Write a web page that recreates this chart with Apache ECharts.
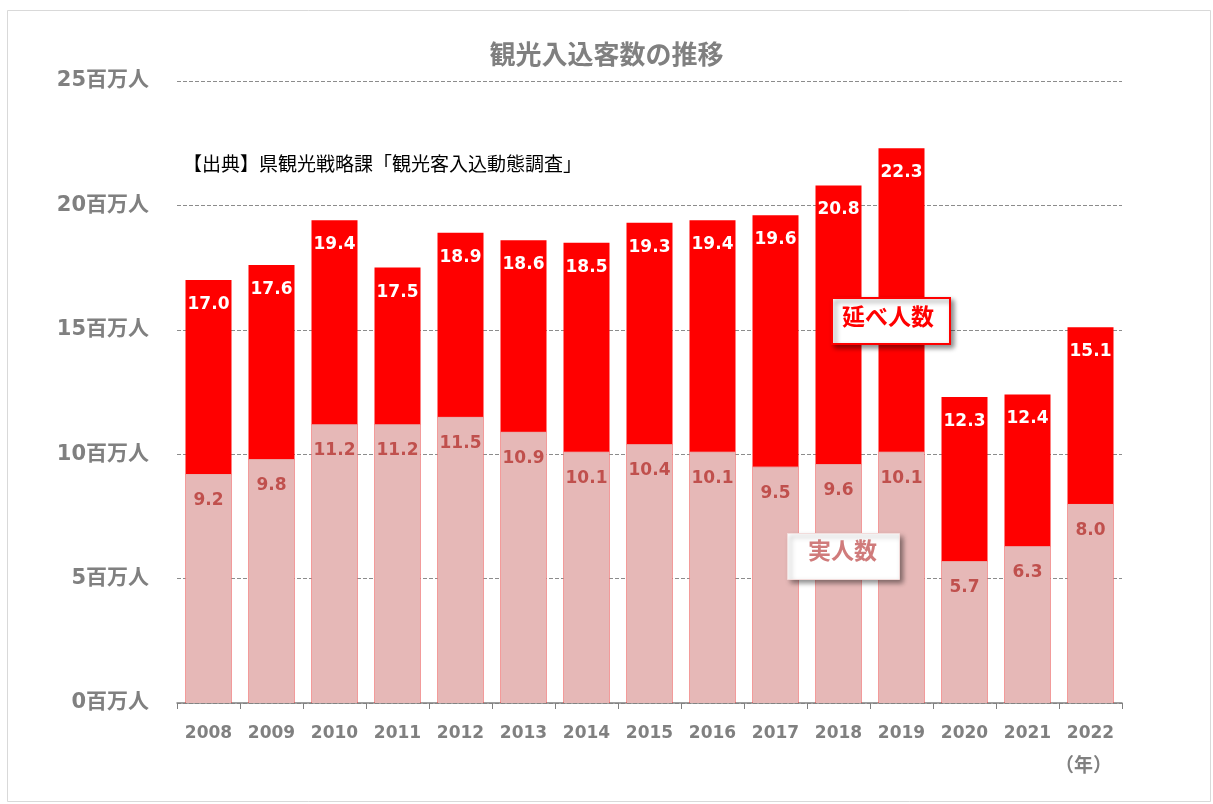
<!DOCTYPE html>
<html><head><meta charset="utf-8">
<script src="https://cdn.jsdelivr.net/npm/echarts@6/dist/echarts.min.js"></script>
<style>html,body{margin:0;padding:0;background:#fff}#c{width:1213px;height:804px}</style>
</head><body><div id="c"></div>
<script>
const categories = ['2008','2009','2010','2011','2012','2013','2014','2015','2016','2017','2018','2019','2020','2021','2022'];
const totalVisitors = [17.0,17.6,19.4,17.5,18.9,18.6,18.5,19.3,19.4,19.6,20.8,22.3,12.3,12.4,15.1];
const realVisitors = [9.2,9.8,11.2,11.2,11.5,10.9,10.1,10.4,10.1,9.5,9.6,10.1,5.7,6.3,8.0];
const yTicks = [0,5,10,15,20,25];
const FONT = "'DejaVu Sans','Noto Sans CJK JP',sans-serif";
const JP = "'Noto Sans CJK JP',sans-serif";

const chart = echarts.init(document.getElementById('c'), null, {renderer:'canvas'});
chart.setOption({
  animation:false,
  backgroundColor:'#fff',
  title:{text:'観光入込客数の推移', left:'center', top:36, textStyle:{fontFamily:JP, fontSize:26, fontWeight:'bold', color:'#808080'}},
  grid:{left:177, right:91, top:81, bottom:101},
  xAxis:{type:'category', data:categories,
    axisLine:{lineStyle:{color:'#808080', width:1.5}},
    axisTick:{show:true, interval:0, length:6, lineStyle:{color:'#808080'}},
    axisLabel:{interval:0, margin:22, fontFamily:FONT, fontSize:17, fontWeight:'bold', color:'#808080'}},
  yAxis:{type:'value', min:0, max:25, interval:5,
    axisLine:{show:false}, axisTick:{show:false},
    splitLine:{lineStyle:{type:'dashed', color:'#8c8c8c', width:1}},
    axisLabel:{margin:28, fontFamily:FONT, fontSize:21, fontWeight:'bold', color:'#808080',
      formatter:v=> yTicks.includes(v) ? v + '百万人' : ''}},
  series:[
    {name:'延べ人数', type:'bar', data:totalVisitors, barWidth:46, barGap:'-100%',
      itemStyle:{color:'#ff0000'},
      label:{show:true, position:'insideTop', distance:16, color:'#fff', fontFamily:FONT, fontSize:17, fontWeight:'bold', formatter:p=>p.value.toFixed(1)}},
    {name:'実人数', type:'bar', data:realVisitors, barWidth:46,
      itemStyle:{color:'#e6b8b7', borderColor:'#e6b8b7', borderWidth:1},
      label:{show:true, position:'insideTop', distance:18, color:'#c0504d', fontFamily:FONT, fontSize:17, fontWeight:'bold', formatter:p=>p.value.toFixed(1)}}
  ],
  graphic:[
    {type:'rect', left:5, top:8, z:-10, shape:{width:1203, height:791}, style:{fill:'none', stroke:'#d9d9d9', lineWidth:1}, silent:true},
    {type:'text', left:183, top:154, style:{text:'【出典】県観光戦略課「観光客入込動態調査」', font:'19px '+JP, fill:'#000'}},
    {type:'text', left:1055, top:755, style:{text:'（年）', font:'bold 19px '+JP, fill:'#808080'}},
    {type:'rect', left:831, top:297, z:100, zlevel:1, shape:{width:118,height:46}, style:{fill:'#fff', stroke:'#ff0000', lineWidth:2, shadowBlur:5, shadowOffsetX:3, shadowOffsetY:3, shadowColor:'rgba(0,0,0,0.45)'}},
    {type:'text', left:842, top:305, z:101, zlevel:1, style:{text:'延べ人数', font:'bold 23px '+JP, fill:'#ff0000'}},
    {type:'rect', left:787, top:533, z:100, zlevel:1, shape:{width:112,height:46}, style:{fill:'#fff', stroke:'#f2dcdb', lineWidth:1, shadowBlur:5, shadowOffsetX:3, shadowOffsetY:3, shadowColor:'rgba(0,0,0,0.45)'}},
    {type:'text', left:808, top:539, z:101, zlevel:1, style:{text:'実人数', font:'bold 23px '+JP, fill:'#d07b7b'}}
  ]
});
</script></body></html>
